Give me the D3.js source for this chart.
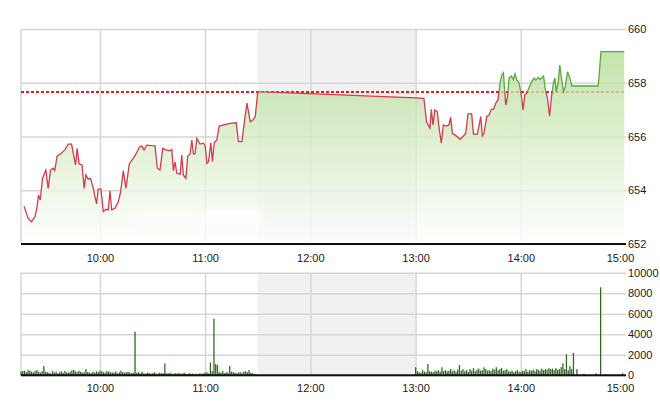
<!DOCTYPE html>
<html>
<head>
<meta charset="utf-8">
<script src="https://cdn.jsdelivr.net/npm/d3@7"></script>
<style>
  html,body{margin:0;padding:0;background:#fff;}
  svg{display:block;font-family:"Liberation Sans",Arial,sans-serif;}
</style>
</head>
<body>
<svg id="chart" width="660" height="412"></svg>
<script>
// ---------- data ----------
const refPrice = 657.67;
const priceTicks = [652, 654, 656, 658, 660];
const volumeTicks = [0, 2000, 4000, 6000, 8000, 10000];
const timeTicks = ["10:00", "11:00", "12:00", "13:00", "14:00", "15:00"];
const lunchBreak = ["11:30:00", "13:00:00"];

const priceTimes = [
 "09:16:45","09:19:00","09:21:00","09:23:00","09:24:00","09:25:00","09:26:00","09:27:15","09:29:10","09:30:30",
 "09:31:50","09:33:20","09:34:15","09:35:35","09:37:30","09:40:00","09:41:55","09:43:50","09:45:10","09:46:05",
 "09:47:00","09:48:10","09:49:50","09:51:00","09:52:00","09:53:20","09:54:40","09:56:10","09:58:05","09:59:00",
 "10:00:35","10:01:55","10:03:25","10:04:45","10:05:45","10:06:40","10:08:35","10:10:30","10:11:50","10:13:20",
 "10:14:50","10:16:45","10:19:00","10:20:35","10:22:30","10:23:50","10:25:10","10:26:40","10:29:30","10:31:25",
 "10:32:45","10:34:15","10:35:50","10:37:30","10:40:00","10:41:00","10:41:55","10:42:50","10:43:50","10:45:45",
 "10:46:40","10:47:35","10:49:00","10:50:05","10:51:25","10:52:25","10:53:20","10:54:15","10:55:15","10:57:10",
 "10:59:00","11:00:00","11:01:00","11:01:55","11:03:15","11:04:10","11:05:10","11:06:40","11:08:00","11:10:30",
 "11:14:15","11:17:45","11:19:00","11:21:00","11:22:30","11:23:50","11:25:45","11:27:15","11:28:35","11:29:55",
 "11:30:00",
 "13:00:00","13:04:45","13:06:15","13:08:10","13:09:00","13:09:55","13:11:00","13:12:25","13:13:20","13:14:40",
 "13:15:50","13:17:30","13:19:00","13:20:00","13:21:00","13:22:30","13:23:50","13:25:20","13:26:40","13:28:35",
 "13:29:55","13:32:00","13:33:00","13:35:15","13:37:10","13:38:05","13:39:00","13:40:35","13:41:55","13:43:15",
 "13:44:25","13:45:45","13:47:00","13:48:10","13:49:10","13:50:05","13:51:25","13:52:25","13:53:20","13:54:40",
 "13:55:50","13:56:45","13:57:45","13:59:00","14:00:25","14:01:20","14:02:15","14:03:25","14:05:45","14:07:35",
 "14:08:35","14:09:55","14:11:00","14:13:00","14:13:55","14:15:15","14:16:25","14:17:30","14:18:40","14:19:25",
 "14:20:10","14:21:20","14:22:15","14:23:15","14:24:25","14:25:20","14:26:40","14:28:00","14:29:10","14:30:30",
 "14:44:10","14:45:45","14:59:00"
];
const priceValues = [
 653.41,652.96,652.83,653.02,653.33,653.82,653.64,654.44,654.75,654.07,
 654.75,654.82,654.73,655.27,655.35,655.50,655.72,655.72,655.25,654.94,
 655.56,654.98,654.94,654.07,654.57,654.41,654.44,654.07,653.49,654.04,
 654.04,653.20,653.29,653.27,653.98,653.27,653.33,653.57,653.95,654.73,
 654.07,654.98,655.19,655.35,655.60,655.65,655.50,655.68,655.66,655.65,
 654.82,654.75,655.56,655.50,655.47,655.52,654.73,655.06,654.63,654.60,
 655.31,654.57,654.44,655.27,655.35,655.87,655.35,655.35,655.93,655.72,
 655.75,655.66,655.00,655.06,655.77,655.06,655.77,655.87,656.39,656.43,
 656.49,656.51,655.81,655.81,656.61,657.24,656.55,656.61,656.74,657.61,
 657.67,
 657.44,657.42,656.55,656.31,657.01,656.43,656.99,656.92,656.36,655.75,
 656.43,656.39,656.43,656.71,656.12,656.06,655.99,655.89,655.97,656.12,
 656.84,656.84,656.09,656.09,656.74,656.02,656.12,656.74,656.80,657.01,
 657.01,657.24,657.36,657.98,658.29,658.37,657.17,657.48,658.17,658.25,
 658.12,658.33,658.10,658.00,657.48,656.99,657.54,657.61,657.98,658.17,
 658.10,658.20,658.12,658.25,657.76,657.42,656.76,657.48,658.00,658.17,
 657.67,658.00,658.66,658.13,657.67,657.83,658.41,658.17,657.88,657.88,
 657.88,659.16,659.16
];

// volume per minute, morning session from 09:15
const volMorningStart = "09:15:00";
const volMorning = [
 380,420,450,300,500,460,350,280,400,520,330,260,410,900,350,
 300,250,180,420,260,350,200,300,380,250,420,300,260,350,480,
 520,400,300,450,350,260,300,600,320,280,200,350,250,400,300,
 450,380,300,250,420,350,300,280,260,380,200,300,450,320,250,
 300,350,280,200,260,4250,250,300,180,350,200,150,260,220,180,
 200,300,180,150,250,200,220,1150,200,180,250,160,150,200,180,
 220,150,180,260,150,120,200,150,180,100,150,120,200,150,180,
 250,300,180,1250,400,5500,1100,1000,300,250,400,200,300,250,900,
 350,300,250,200,280,300,200,350,400,300,500,250,200,150,100
];
// volume per minute, afternoon session from 13:00
const volAfternoonStart = "13:00:00";
const volAfternoon = [
 780,400,300,250,500,350,300,1100,400,350,300,450,380,500,350,
 780,420,500,380,450,600,400,500,350,550,1000,450,600,380,500,
 350,600,450,700,400,550,650,450,500,780,600,450,500,400,650,
 550,780,500,600,700,450,500,600,400,350,450,300,400,500,350,
 300,450,400,600,350,500,450,550,400,600,500,450,650,500,600,
 550,700,600,650,500,700,550,600,800,1170,600,2050,500,900,600
];
const volLateTimes = ["14:30:00","14:32:00","14:36:00","14:43:00","14:45:30","14:48:00","14:58:00"];
const volLateValues = [2180, 600, 150, 200, 8580, 100, 200];

// ---------- setup ----------
const parse = d3.timeParse("%Y-%m-%d %H:%M:%S");
const T = s => parse("2020-01-01 " + (s.length === 5 ? s + ":00" : s));

const svg = d3.select("#chart");
const L = 21, R = 626;
const top1 = 29, bot1 = 244;
const top2 = 272.7, bot2 = 375.3;

const x = d3.scaleTime().domain([T("09:15:00"), T("15:00:00")]).range([L, R]);
const yP = d3.scaleLinear().domain([652, 660]).range([bot1, top1]);
const yV = d3.scaleLinear().domain([0, 10000]).range([bot2, top2]);

const prices = priceTimes.map((t, i) => ({ t: T(t), v: priceValues[i] }));

const vols = [];
const m0 = T(volMorningStart), a0 = T(volAfternoonStart);
volMorning.forEach((v, i) => vols.push({ t: d3.timeMinute.offset(m0, i), v }));
volAfternoon.forEach((v, i) => vols.push({ t: d3.timeMinute.offset(a0, i), v }));
volLateTimes.forEach((t, i) => vols.push({ t: T(t), v: volLateValues[i] }));

const defs = svg.append("defs");
const grad = defs.append("linearGradient").attr("id", "areaGrad")
  .attr("gradientUnits", "userSpaceOnUse").attr("x1", 0).attr("x2", 0)
  .attr("y1", top1).attr("y2", bot1);
grad.append("stop").attr("offset", 0).attr("stop-color", "#aed98c");
grad.append("stop").attr("offset", 1).attr("stop-color", "#ffffff");

defs.append("filter").attr("id", "blur").attr("x", "-20%").attr("y", "-50%")
  .attr("width", "140%").attr("height", "200%")
  .append("feGaussianBlur").attr("stdDeviation", 2.5);

defs.append("clipPath").attr("id", "above").append("rect")
  .attr("x", L).attr("y", top1 - 5).attr("width", R - L).attr("height", yP(refPrice) - top1 + 5);
defs.append("clipPath").attr("id", "below").append("rect")
  .attr("x", L).attr("y", yP(refPrice)).attr("width", R - L).attr("height", bot1 - yP(refPrice) + 5);

const gridColor = "#d6d6d6";

function panel(yScale, yTicks, yTop, yBot) {
  const g = svg.append("g");
  g.append("rect")
    .attr("x", x(T(lunchBreak[0]))).attr("y", yTop)
    .attr("width", x(T(lunchBreak[1])) - x(T(lunchBreak[0])))
    .attr("height", yBot - yTop).attr("fill", "#f1f1f1");
  g.append("g").attr("transform", `translate(${L},0)`)
    .call(d3.axisLeft(yScale).tickValues(yTicks).tickSize(-(R - L)).tickFormat(""))
    .call(a => a.select(".domain").remove())
    .call(a => a.selectAll("line").attr("stroke", gridColor).attr("stroke-width", 1.5));
  g.append("g").attr("transform", `translate(0,${yBot})`)
    .call(d3.axisBottom(x).tickValues(timeTicks.slice(0, -1).map(T)).tickSize(-(yBot - yTop)).tickFormat(""))
    .call(a => a.select(".domain").remove())
    .call(a => a.selectAll("line").attr("stroke", gridColor).attr("stroke-width", 1.5));
  g.append("line").attr("x1", L).attr("x2", L).attr("y1", yTop).attr("y2", yBot)
    .attr("stroke", gridColor).attr("stroke-width", 1.5);
  svg.append("g").attr("transform", `translate(${R},0)`)
    .call(d3.axisRight(yScale).tickValues(yTicks).tickSize(0).tickPadding(2).tickFormat(d3.format("d")))
    .call(a => a.select(".domain").remove())
    .call(a => a.selectAll("text").attr("font-size", 11).attr("fill", "#1a1a1a")
      .attr("font-family", "'Liberation Sans',Arial,sans-serif"));
  return g;
}

const g1 = panel(yP, priceTicks, top1, bot1);
const g2 = panel(yV, volumeTicks, top2, bot2);

// reference dashed line
const yRef = Math.round(yP(refPrice));
g1.append("line").attr("x1", L).attr("x2", R)
  .attr("y1", yRef).attr("y2", yRef)
  .attr("stroke", "#f41418").attr("stroke-width", 1.8).attr("stroke-dasharray", "3,2");

// area
const area = d3.area().x(d => x(d.t)).y0(bot1).y1(d => yP(d.v));
g1.append("path").datum(prices).attr("d", area)
  .attr("fill", "url(#areaGrad)").attr("fill-opacity", 0.8);

// smudge
g1.append("rect").attr("x", 132).attr("y", 210).attr("width", 75).attr("height", 14).attr("rx", 6)
  .attr("fill", "#ffffff").attr("opacity", 0.5).attr("filter", "url(#blur)");
g1.append("rect").attr("x", 205).attr("y", 209).attr("width", 57).attr("height", 17).attr("rx", 6)
  .attr("fill", "#ffffff").attr("opacity", 0.9).attr("filter", "url(#blur)");

// line
const line = d3.line().x(d => x(d.t)).y(d => yP(d.v));
g1.append("path").datum(prices).attr("d", line).attr("fill", "none")
  .attr("stroke", "#58a83e").attr("stroke-width", 1.3).attr("clip-path", "url(#above)");
g1.append("path").datum(prices).attr("d", line).attr("fill", "none")
  .attr("stroke", "#d23c4c").attr("stroke-width", 1.3).attr("clip-path", "url(#below)");

g1.append("line").attr("x1", L).attr("x2", R).attr("y1", bot1).attr("y2", bot1)
  .attr("stroke", "#111").attr("stroke-width", 2);

// volume bars
g2.selectAll("rect.bar").data(vols).join("rect").attr("class", "bar")
  .attr("x", d => x(d.t) - 0.6).attr("width", 1.3)
  .attr("y", d => yV(d.v)).attr("height", d => yV(0) - yV(d.v))
  .attr("fill", "#2f6b22");
g2.append("line").attr("x1", L).attr("x2", R).attr("y1", bot2).attr("y2", bot2)
  .attr("stroke", "#111").attr("stroke-width", 2);

// time labels
function timeLabels(yPos) {
  svg.append("g").attr("transform", `translate(0,${yPos})`)
    .call(d3.axisBottom(x).tickValues(timeTicks.map(T)).tickSize(0).tickPadding(0)
      .tickFormat(d3.timeFormat("%H:%M")))
    .call(a => a.select(".domain").remove())
    .call(a => a.selectAll("text").attr("font-size", 11).attr("fill", "#1a1a1a")
      .attr("font-family", "'Liberation Sans',Arial,sans-serif")
      .attr("dx", (d, i) => i === timeTicks.length - 1 ? -6 : 0));
}
timeLabels(254);
timeLabels(384);
</script>
</body>
</html>
